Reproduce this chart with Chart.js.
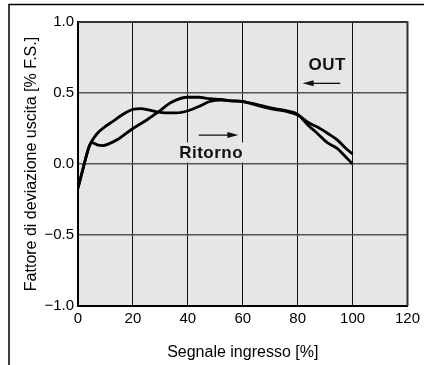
<!DOCTYPE html>
<html>
<head>
<meta charset="utf-8">
<script src="https://cdn.jsdelivr.net/npm/chart.js@4/dist/chart.umd.min.js"></script>
<style>
  html, body { margin: 0; padding: 0; background: #fff; }
  #wrap { width: 424px; height: 365px; }
</style>
</head>
<body>
<div id="wrap"><canvas id="c" width="424" height="365"></canvas></div>
<script>
// ---- data ----
const xTicks = [0, 20, 40, 60, 80, 100, 120];
const yTicks = [-1.0, -0.5, 0.0, 0.5, 1.0];
const yTickLabels = ["\u22121.0", "\u22120.5", "0.0", "0.5", "1.0"];

const seriesAx = [0, 2, 4, 5, 7, 10, 12.7, 16, 20, 23, 28, 32, 36, 40, 44, 48, 52, 56, 60, 66, 71.6, 76, 80, 84, 87.2, 91, 94.4, 97, 100];
const seriesAy = [-0.17, -0.02, 0.12, 0.16, 0.215, 0.265, 0.30, 0.345, 0.385, 0.39, 0.37, 0.36, 0.36, 0.375, 0.405, 0.44, 0.45, 0.445, 0.44, 0.41, 0.385, 0.37, 0.345, 0.29, 0.26, 0.215, 0.17, 0.12, 0.07];

const seriesBx = [0, 2, 4, 5, 7, 9, 11, 15, 20, 25, 29.5, 34, 40, 44, 48, 52, 56, 60, 66, 71.6, 76, 80, 84, 87.2, 90.8, 94.4, 97, 100];
const seriesBy = [-0.17, -0.02, 0.12, 0.15, 0.135, 0.13, 0.14, 0.18, 0.25, 0.31, 0.37, 0.435, 0.47, 0.47, 0.46, 0.455, 0.445, 0.44, 0.415, 0.39, 0.375, 0.35, 0.27, 0.215, 0.15, 0.11, 0.06, 0.0];

// annotation anchors (data units)
const outLabel = { text: "OUT", x: 90.8, y: 0.70 };
const outArrow = { x1: 95.5, x2: 81.8, y: 0.568 };
const retLabel = { text: "Ritorno", x: 48.5, y: 0.081 };
const retArrow = { x1: 44, x2: 58.4, y: 0.204 };

const xTitle = "Segnale ingresso [%]";
const yTitle = "Fattore di deviazione uscita [% F.S.]";

function pts(xs, ys) { return xs.map((x, i) => ({ x: x, y: ys[i] })); }

const FONT = "'Liberation Sans', Arial, Helvetica, sans-serif";

const decor = {
  id: 'decor',
  beforeDraw(chart) {
    const { ctx, chartArea: a } = chart;
    ctx.save();
    ctx.fillStyle = '#e6e6e6';
    ctx.fillRect(a.left, a.top, a.right - a.left, a.bottom - a.top);
    // outer frame (top & left)
    ctx.strokeStyle = '#000';
    ctx.lineWidth = 1.5;
    ctx.beginPath();
    ctx.moveTo(9, 365);
    ctx.lineTo(9, 4.5);
    ctx.lineTo(424, 4.5);
    ctx.stroke();
    ctx.restore();
  },
  beforeDatasetsDraw(chart) {
    const { ctx, chartArea: a, scales: { x, y } } = chart;
    ctx.save();
    // top & right border
    ctx.strokeStyle = '#333';
    ctx.lineWidth = 2;
    ctx.beginPath();
    ctx.moveTo(a.left, a.top);
    ctx.lineTo(a.right, a.top);
    ctx.lineTo(a.right, a.bottom);
    ctx.stroke();

    ctx.font = "bold 17px " + FONT;
    ctx.letterSpacing = '0.5px';
    ctx.textAlign = 'center';
    ctx.textBaseline = 'middle';
    function label(l, padX, padY) {
      const px = x.getPixelForValue(l.x), py = y.getPixelForValue(l.y);
      const w = ctx.measureText(l.text).width;
      ctx.fillStyle = '#e6e6e6';
      ctx.fillRect(px - w / 2 - padX, py - 9 - padY, w + 2 * padX, 18 + 2 * padY);
      ctx.fillStyle = '#111';
      ctx.fillText(l.text, px, py + 1);
    }
    label(outLabel, 4, 1);
    label(retLabel, 6, 1);

    function arrow(ar) {
      const p1 = x.getPixelForValue(ar.x1), p2 = x.getPixelForValue(ar.x2), py = y.getPixelForValue(ar.y);
      const dir = Math.sign(p2 - p1);
      ctx.strokeStyle = '#111';
      ctx.fillStyle = '#111';
      ctx.lineWidth = 1.3;
      ctx.beginPath();
      ctx.moveTo(p1, py);
      ctx.lineTo(p2 - dir * 8, py);
      ctx.stroke();
      ctx.beginPath();
      ctx.moveTo(p2, py);
      ctx.lineTo(p2 - dir * 11, py - 3);
      ctx.lineTo(p2 - dir * 11, py + 3);
      ctx.closePath();
      ctx.fill();
    }
    arrow(outArrow);
    arrow(retArrow);
    ctx.restore();
  }
};

new Chart(document.getElementById('c'), {
  type: 'line',
  data: {
    datasets: [
      { data: pts(seriesAx, seriesAy), borderColor: '#000', borderWidth: 2.8, pointRadius: 0, cubicInterpolationMode: 'monotone', fill: false },
      { data: pts(seriesBx, seriesBy), borderColor: '#000', borderWidth: 2.8, pointRadius: 0, cubicInterpolationMode: 'monotone', fill: false }
    ]
  },
  options: {
    responsive: false,
    animation: false,
    devicePixelRatio: 1,
    layout: { padding: { left: 0, right: 13, top: 22, bottom: 0 } },
    plugins: { legend: { display: false }, tooltip: { enabled: false } },
    scales: {
      x: {
        type: 'linear', min: 0, max: 120,
        afterBuildTicks(s) { s.ticks = xTicks.map(v => ({ value: v })); },
        afterFit(s) { s.height = 59; },
        ticks: { color: '#000', font: { family: FONT, size: 15 }, padding: 4, maxRotation: 0, autoSkip: false },
        grid: { color: '#111', lineWidth: 1, drawTicks: false },
        border: { display: true, color: '#000', width: 2 },
        title: { display: true, text: xTitle, color: '#000', font: { family: FONT, size: 16 }, padding: { top: 0, bottom: 3 } }
      },
      y: {
        type: 'linear', min: -1, max: 1,
        afterBuildTicks(s) { s.ticks = yTicks.map(v => ({ value: v })); },
        afterFit(s) { s.width = 78; },
        ticks: {
          color: '#000', font: { family: FONT, size: 15 }, padding: 4, autoSkip: false,
          callback(v) { const i = yTicks.findIndex(t => Math.abs(t - v) < 1e-9); return i >= 0 ? yTickLabels[i] : ''; }
        },
        grid: { color: '#555', lineWidth: 1.5, drawTicks: false },
        border: { display: true, color: '#000', width: 2 },
        title: { display: true, text: yTitle, color: '#000', font: { family: FONT, size: 16 }, padding: { top: 22, bottom: 0 } }
      }
    }
  },
  plugins: [decor]
});
</script>
</body>
</html>
